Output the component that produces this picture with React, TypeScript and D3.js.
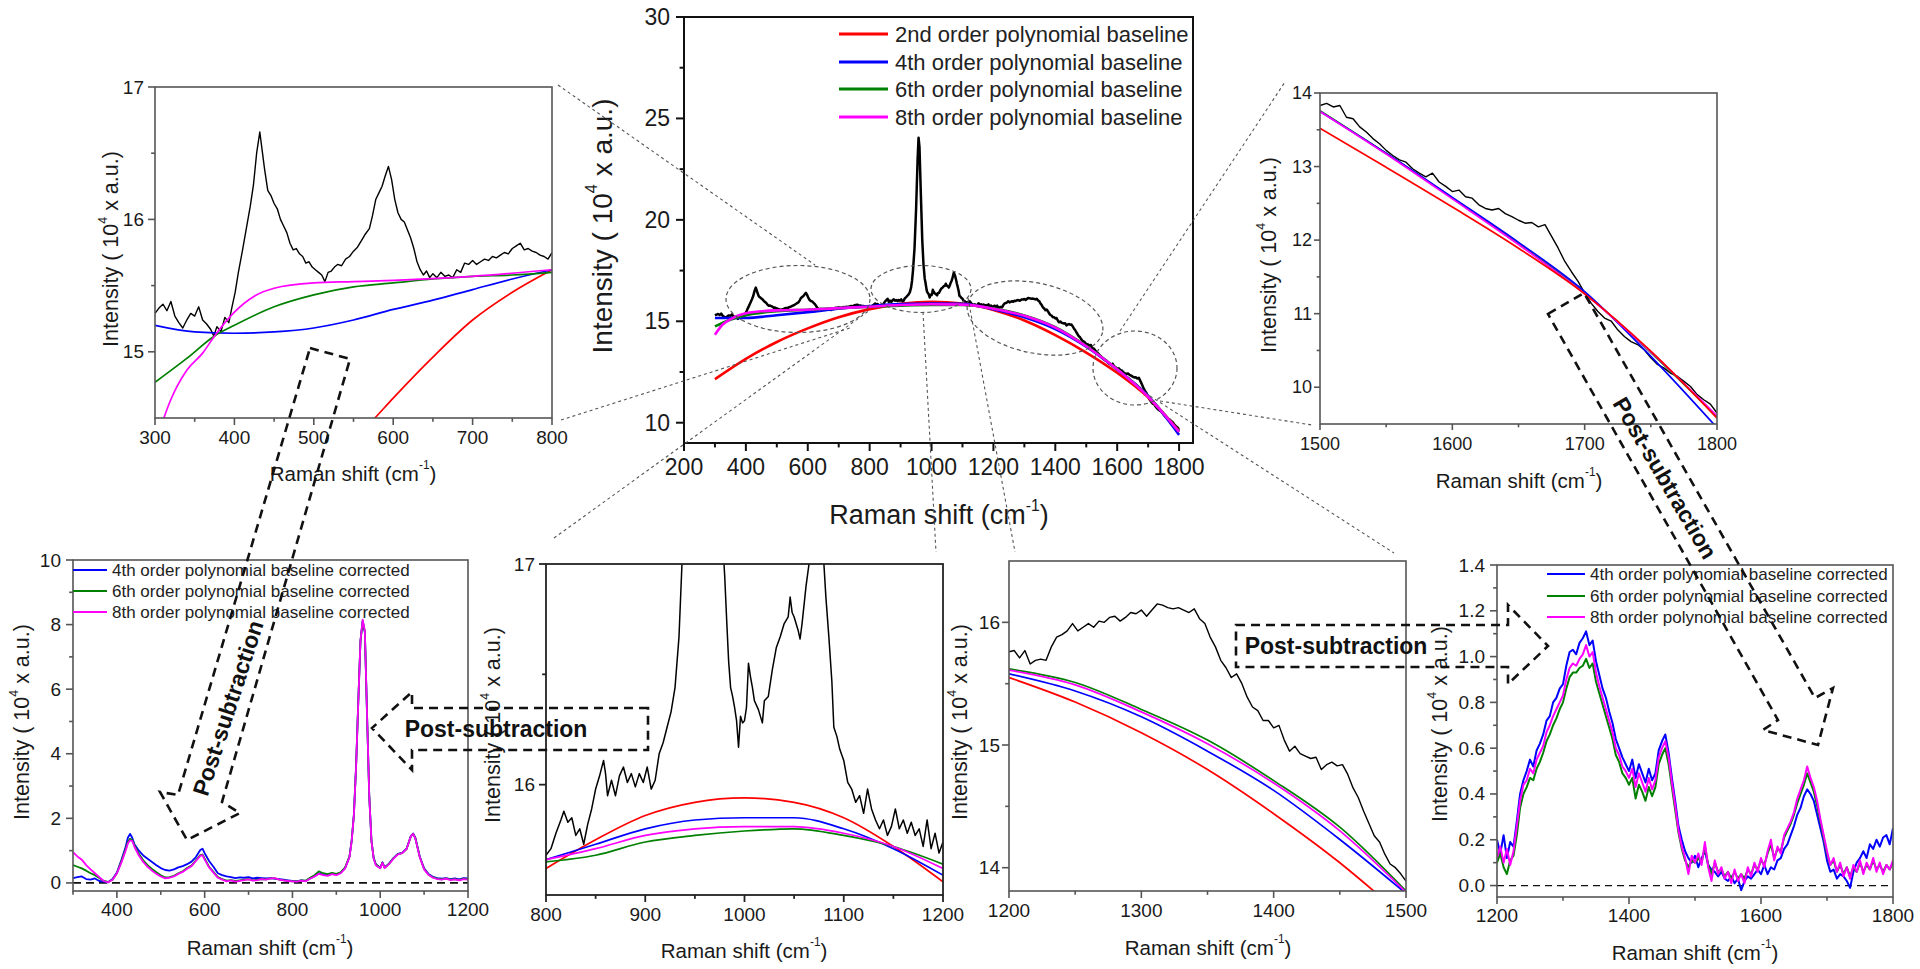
import React from 'react';
import * as d3 from 'd3';

type P = [number, number];

const FONT = '"Liberation Sans", Arial, Helvetica, sans-serif';
const RED = '#ff0000';
const BLUE = '#0000ff';
const GREEN = '#008000';
const MAGENTA = '#ff00ff';

// ---------- raw spectrum ----------
const raw300: P[] = [
  [300, 15.29], [305, 15.33], [310, 15.36], [315, 15.31], [320, 15.38], [325, 15.27], [330, 15.22], [335, 15.18],
  [340, 15.24], [345, 15.29], [350, 15.27], [355, 15.34], [360, 15.24], [365, 15.21], [370, 15.17], [374, 15.12],
  [378, 15.19], [383, 15.15], [388, 15.26], [393, 15.22], [397, 15.34], [401, 15.45], [405, 15.6], [410, 15.76],
  [415, 15.93], [420, 16.1], [424, 16.26], [428, 16.5], [432, 16.66], [435, 16.52], [438, 16.38], [442, 16.22],
  [446, 16.18], [450, 16.12], [454, 16.08], [458, 16.0], [462, 15.95], [466, 15.9], [470, 15.82], [474, 15.77],
  [478, 15.78], [482, 15.74], [486, 15.72], [490, 15.67], [494, 15.68], [498, 15.64], [502, 15.62], [506, 15.6],
  [510, 15.58], [514, 15.53], [518, 15.6], [522, 15.61], [526, 15.64], [530, 15.66], [535, 15.65], [540, 15.7],
  [545, 15.72], [550, 15.76], [555, 15.79], [560, 15.84], [565, 15.89], [570, 15.93], [574, 16.03], [578, 16.15],
  [582, 16.2], [586, 16.25], [590, 16.33], [594, 16.4], [598, 16.3], [602, 16.15], [606, 16.05], [610, 16.0],
  [614, 15.98], [618, 15.92], [622, 15.86], [626, 15.78], [630, 15.68], [634, 15.62], [638, 15.58], [642, 15.61],
  [646, 15.56], [650, 15.59], [655, 15.56], [660, 15.6], [665, 15.57], [670, 15.58], [675, 15.56], [680, 15.62],
  [685, 15.6], [690, 15.67], [695, 15.66], [700, 15.69], [705, 15.66], [710, 15.68], [715, 15.7], [720, 15.69],
  [725, 15.72], [730, 15.71], [735, 15.73], [740, 15.75], [745, 15.74], [750, 15.78], [755, 15.8], [760, 15.82],
  [765, 15.77], [770, 15.78], [775, 15.76], [780, 15.75], [785, 15.73], [790, 15.72], [795, 15.7], [800, 15.75],
];

const raw800: P[] = [
  [800, 15.68], [805, 15.71], [810, 15.78], [815, 15.84], [818, 15.88], [822, 15.83], [826, 15.85], [830, 15.77],
  [834, 15.8], [838, 15.73], [842, 15.82], [846, 15.89], [850, 15.98], [854, 16.04], [858, 16.11], [860, 16.05],
  [862, 15.95], [866, 16.02], [870, 15.95], [874, 16.04], [878, 16.08], [882, 16.01], [886, 16.05], [890, 15.99],
  [894, 16.05], [898, 16.01], [902, 16.08], [906, 15.98], [910, 16.02], [914, 16.14], [918, 16.19], [922, 16.26],
  [926, 16.33], [930, 16.44], [934, 16.67], [937, 17.0], [940, 17.5], [945, 18.6], [950, 20.5], [955, 23.0],
  [958, 24.05], [961, 23.6], [965, 21.5], [970, 19.0], [974, 17.8], [978, 17.1], [980, 16.95], [982, 16.75],
  [984, 16.56], [986, 16.44], [988, 16.4], [990, 16.35], [992, 16.29], [994, 16.17], [996, 16.31], [998, 16.28],
  [1000, 16.29], [1002, 16.35], [1004, 16.55], [1006, 16.49], [1008, 16.44], [1010, 16.38], [1014, 16.34], [1018, 16.28],
  [1020, 16.38], [1024, 16.4], [1028, 16.52], [1032, 16.62], [1036, 16.67], [1040, 16.73], [1044, 16.76], [1046, 16.85],
  [1048, 16.78], [1050, 16.76], [1054, 16.7], [1056, 16.66], [1058, 16.73], [1062, 16.9], [1065, 17.0], [1068, 17.15],
  [1072, 17.4], [1076, 17.25], [1080, 17.0], [1082, 16.85], [1085, 16.67], [1088, 16.47], [1090, 16.26], [1093, 16.22],
  [1096, 16.16], [1100, 16.11], [1104, 16.01], [1108, 15.98], [1112, 15.92], [1116, 15.95], [1120, 15.87], [1124, 15.98],
  [1128, 15.89], [1132, 15.84], [1136, 15.8], [1140, 15.84], [1144, 15.77], [1148, 15.81], [1152, 15.89], [1156, 15.8],
  [1160, 15.84], [1164, 15.78], [1168, 15.83], [1172, 15.77], [1176, 15.8], [1180, 15.72], [1184, 15.84], [1188, 15.71],
  [1192, 15.78], [1196, 15.69], [1200, 15.74],
];

const raw1200: P[] = [
  [1200, 15.76], [1204, 15.77], [1208, 15.71], [1212, 15.77], [1216, 15.66], [1220, 15.69], [1224, 15.7], [1228, 15.69],
  [1232, 15.8], [1236, 15.88], [1240, 15.9], [1244, 15.93], [1248, 15.99], [1252, 15.93], [1256, 15.96], [1260, 15.99],
  [1264, 15.96], [1268, 16.01], [1272, 16.0], [1276, 16.04], [1280, 16.05], [1284, 16.01], [1288, 16.04], [1292, 16.08],
  [1296, 16.07], [1300, 16.1], [1304, 16.05], [1308, 16.1], [1312, 16.15], [1316, 16.14], [1320, 16.12], [1324, 16.11],
  [1328, 16.12], [1332, 16.1], [1336, 16.08], [1340, 16.11], [1344, 16.03], [1348, 15.99], [1352, 15.88], [1356, 15.8],
  [1360, 15.69], [1364, 15.63], [1368, 15.55], [1372, 15.58], [1376, 15.5], [1380, 15.39], [1384, 15.31], [1388, 15.28],
  [1392, 15.2], [1396, 15.2], [1400, 15.14], [1404, 15.16], [1408, 15.04], [1412, 14.95], [1416, 14.99], [1420, 14.93],
  [1424, 14.91], [1428, 14.89], [1432, 14.9], [1436, 14.8], [1440, 14.84], [1444, 14.86], [1448, 14.83], [1452, 14.84],
  [1456, 14.76], [1460, 14.65], [1464, 14.57], [1468, 14.46], [1472, 14.36], [1476, 14.26], [1480, 14.21], [1484, 14.11],
  [1488, 14.03], [1492, 14.0], [1496, 13.95], [1500, 13.89],
];

const raw1500: P[] = [
  [1500, 13.83], [1505, 13.86], [1510, 13.81], [1515, 13.83], [1520, 13.67], [1525, 13.65], [1530, 13.54], [1535, 13.47],
  [1540, 13.38], [1545, 13.31], [1550, 13.22], [1555, 13.15], [1560, 13.09], [1565, 13.06], [1570, 12.97], [1575, 12.91],
  [1580, 12.86], [1585, 12.91], [1590, 12.79], [1595, 12.73], [1600, 12.66], [1605, 12.68], [1610, 12.59], [1615, 12.57],
  [1620, 12.48], [1625, 12.43], [1630, 12.41], [1635, 12.43], [1640, 12.36], [1645, 12.32], [1650, 12.27], [1655, 12.23],
  [1660, 12.24], [1665, 12.18], [1670, 12.21], [1675, 12.05], [1680, 11.89], [1685, 11.71], [1690, 11.57], [1695, 11.44],
  [1700, 11.28], [1705, 11.14], [1710, 11.03], [1715, 10.94], [1720, 10.9], [1725, 10.78], [1730, 10.69], [1735, 10.62],
  [1740, 10.58], [1745, 10.51], [1750, 10.4], [1755, 10.31], [1760, 10.26], [1765, 10.19], [1770, 10.15], [1775, 10.08],
  [1780, 10.01], [1785, 9.9], [1790, 9.83], [1795, 9.77], [1800, 9.65],
];

const rawFull: P[] = [...raw300, ...raw800.slice(1), ...raw1200.slice(1), ...raw1500.slice(1)];

// ---------- polynomial baselines (main view) ----------
const mainRed: P[] = [[300, 12.15], [400, 13.15], [500, 13.98], [600, 14.65], [700, 15.2], [800, 15.6], [900, 15.86], [1000, 15.96], [1100, 15.88], [1200, 15.56], [1300, 15.04], [1400, 14.32], [1500, 13.46], [1600, 12.46], [1700, 11.25], [1800, 9.59]];
const mainBlue: P[] = [[300, 15.16], [400, 15.16], [500, 15.3], [600, 15.45], [700, 15.62], [800, 15.75], [900, 15.85], [1000, 15.88], [1100, 15.86], [1200, 15.6], [1300, 15.2], [1400, 14.62], [1500, 13.75], [1600, 12.62], [1700, 11.32], [1800, 9.4]];
const mainGreen: P[] = [[300, 14.75], [350, 15.08], [400, 15.3], [500, 15.5], [600, 15.57], [700, 15.65], [800, 15.72], [900, 15.77], [1000, 15.8], [1100, 15.8], [1200, 15.63], [1300, 15.29], [1400, 14.71], [1500, 13.78], [1600, 12.64], [1700, 11.3], [1800, 9.55]];
const mainMagenta: P[] = [[300, 14.34], [325, 14.84], [350, 15.1], [400, 15.4], [500, 15.54], [600, 15.57], [700, 15.65], [800, 15.72], [900, 15.8], [1000, 15.84], [1100, 15.82], [1200, 15.62], [1300, 15.27], [1400, 14.69], [1500, 13.77], [1600, 12.63], [1700, 11.28], [1800, 9.55]];

// 300-800 inset
const p1Red: P[] = [[550, 14.33], [577, 14.5], [600, 14.65], [650, 14.96], [700, 15.24], [750, 15.45], [800, 15.62]];
const p1Blue: P[] = [[300, 15.2], [350, 15.15], [400, 15.14], [450, 15.15], [500, 15.18], [550, 15.24], [600, 15.32], [650, 15.39], [700, 15.47], [750, 15.55], [800, 15.62]];
const p1Green: P[] = [[300, 14.77], [340, 14.95], [375, 15.12], [400, 15.2], [450, 15.34], [500, 15.43], [550, 15.49], [600, 15.52], [650, 15.55], [700, 15.57], [750, 15.58], [800, 15.6]];
const p1Magenta: P[] = [[300, 14.3], [320, 14.64], [340, 14.86], [360, 14.99], [375, 15.12], [400, 15.3], [425, 15.42], [450, 15.48], [500, 15.52], [550, 15.53], [600, 15.54], [700, 15.57], [800, 15.62]];

// 800-1200 inset
const p5Red: P[] = [[800, 15.62], [850, 15.75], [900, 15.86], [950, 15.92], [1000, 15.94], [1050, 15.92], [1100, 15.85], [1150, 15.72], [1200, 15.56]];
const p5Blue: P[] = [[800, 15.66], [850, 15.73], [900, 15.8], [950, 15.84], [1000, 15.85], [1050, 15.85], [1100, 15.8], [1150, 15.71], [1200, 15.59]];
const p5Green: P[] = [[800, 15.65], [850, 15.68], [900, 15.74], [950, 15.77], [1000, 15.79], [1050, 15.8], [1100, 15.77], [1150, 15.72], [1200, 15.64]];
const p5Magenta: P[] = [[800, 15.66], [850, 15.71], [900, 15.77], [950, 15.8], [1000, 15.81], [1050, 15.81], [1100, 15.78], [1150, 15.72], [1200, 15.62]];

// 1200-1500 inset
const p6Red: P[] = [[1200, 15.55], [1250, 15.35], [1300, 15.1], [1350, 14.8], [1400, 14.44], [1450, 14.04], [1480, 13.77]];
const p6Blue: P[] = [[1200, 15.58], [1250, 15.44], [1300, 15.23], [1350, 14.95], [1400, 14.63], [1450, 14.23], [1500, 13.79]];
const p6Green: P[] = [[1200, 15.62], [1250, 15.51], [1300, 15.29], [1350, 15.04], [1400, 14.71], [1450, 14.33], [1500, 13.81]];
const p6Magenta: P[] = [[1200, 15.61], [1250, 15.49], [1300, 15.27], [1350, 15.01], [1400, 14.69], [1450, 14.3], [1500, 13.8]];

// 1500-1800 inset
const p3Red: P[] = [[1500, 13.52], [1550, 12.99], [1600, 12.45], [1650, 11.89], [1700, 11.27], [1750, 10.49], [1800, 9.58]];
const p3Blue: P[] = [[1500, 13.75], [1550, 13.18], [1600, 12.58], [1650, 11.97], [1700, 11.3], [1750, 10.42], [1800, 9.45]];
const p3Green: P[] = [[1500, 13.76], [1550, 13.18], [1600, 12.57], [1650, 11.95], [1700, 11.28], [1750, 10.47], [1800, 9.6]];
const p3Magenta: P[] = [[1500, 13.75], [1550, 13.17], [1600, 12.56], [1650, 11.94], [1700, 11.27], [1750, 10.48], [1800, 9.61]];

// ---------- baseline-corrected spectra, 300-1200 ----------
const p4Shift = [
  300, 310, 320, 330, 340, 350, 360, 370, 380, 390, 400, 410, 420, 425, 430, 435, 440, 450, 460, 470,
  480, 490, 500, 510, 520, 530, 540, 550, 560, 570, 580, 590, 595, 600, 610, 620, 630, 640, 650, 660,
  670, 680, 690, 700, 710, 720, 730, 740, 750, 760, 770, 780, 790, 800, 810, 820, 830, 840, 850, 860,
  870, 880, 890, 900, 910, 920, 930, 935, 940, 945, 950, 955, 960, 965, 970, 975, 980, 985, 990, 1000,
  1005, 1010, 1020, 1030, 1040, 1050, 1060, 1070, 1075, 1080, 1090, 1100, 1110, 1120, 1130, 1140, 1150, 1160,
  1170, 1180, 1190, 1200,
];
const p4Blue = [
  0.15, 0.18, 0.2, 0.12, 0.1, 0.14, 0.06, 0.04, 0.02, 0.12, 0.32, 0.7, 1.12, 1.4, 1.52, 1.4, 1.2, 1.0, 0.85, 0.75,
  0.65, 0.55, 0.46, 0.4, 0.38, 0.42, 0.48, 0.52, 0.58, 0.66, 0.8, 1.02, 1.06, 0.92, 0.68, 0.5, 0.3, 0.24, 0.2, 0.18,
  0.15, 0.17, 0.16, 0.18, 0.14, 0.16, 0.15, 0.14, 0.15, 0.13, 0.12, 0.1, 0.08, 0.06, 0.05, 0.08, 0.06, 0.14, 0.2, 0.3,
  0.26, 0.24, 0.28, 0.26, 0.32, 0.46, 0.82, 1.32, 2.12, 3.62, 5.62, 7.5, 8.1, 7.75, 5.2, 2.7, 1.32, 0.78, 0.58, 0.47,
  0.64, 0.48, 0.6, 0.77, 0.9, 0.93, 1.06, 1.46, 1.53, 1.4, 0.82, 0.45, 0.28, 0.19, 0.15, 0.13, 0.15, 0.12,
  0.14, 0.11, 0.15, 0.14,
];
const p4Green = [
  0.55, 0.5, 0.45, 0.38, 0.3, 0.24, 0.15, 0.06, 0.03, 0.1, 0.3, 0.66, 1.05, 1.27, 1.37, 1.33, 1.16, 0.9, 0.7, 0.55,
  0.43, 0.33, 0.24, 0.17, 0.18, 0.22, 0.3, 0.36, 0.46, 0.54, 0.7, 0.86, 0.88, 0.75, 0.5, 0.34, 0.18, 0.12, 0.07, 0.09,
  0.06, 0.08, 0.1, 0.12, 0.08, 0.1, 0.12, 0.11, 0.14, 0.14, 0.1, 0.08, 0.06, 0.05, 0.05, 0.08, 0.07, 0.16, 0.24, 0.36,
  0.3, 0.27, 0.31, 0.28, 0.33, 0.48, 0.82, 1.31, 2.11, 3.61, 5.6, 7.48, 8.12, 7.78, 5.2, 2.7, 1.31, 0.77, 0.57, 0.46,
  0.63, 0.47, 0.59, 0.76, 0.89, 0.92, 1.05, 1.45, 1.52, 1.39, 0.81, 0.43, 0.26, 0.17, 0.13, 0.11, 0.14, 0.1,
  0.12, 0.09, 0.13, 0.11,
];
const p4Magenta = [
  0.95, 0.82, 0.72, 0.55, 0.42, 0.3, 0.18, 0.06, 0.02, 0.1, 0.3, 0.62, 1.0, 1.22, 1.32, 1.3, 1.12, 0.85, 0.65, 0.5,
  0.38, 0.28, 0.2, 0.14, 0.16, 0.2, 0.28, 0.34, 0.44, 0.52, 0.68, 0.84, 0.86, 0.72, 0.48, 0.32, 0.16, 0.1, 0.05, 0.08,
  0.04, 0.06, 0.09, 0.11, 0.07, 0.09, 0.12, 0.1, 0.14, 0.15, 0.1, 0.08, 0.06, 0.05, 0.04, 0.07, 0.05, 0.13, 0.2, 0.28,
  0.24, 0.22, 0.27, 0.24, 0.3, 0.45, 0.8, 1.3, 2.1, 3.6, 5.6, 7.5, 8.15, 7.8, 5.2, 2.7, 1.3, 0.75, 0.55, 0.45,
  0.62, 0.46, 0.58, 0.75, 0.88, 0.92, 1.05, 1.45, 1.52, 1.38, 0.8, 0.42, 0.25, 0.16, 0.12, 0.1, 0.13, 0.09,
  0.11, 0.08, 0.12, 0.1,
];

// ---------- baseline-corrected spectra, 1200-1800 ----------
const p7Shift = [
  1200, 1205, 1210, 1215, 1220, 1225, 1230, 1235, 1240, 1245, 1250, 1255, 1260, 1265, 1270, 1275, 1280, 1285, 1290, 1295,
  1300, 1305, 1310, 1315, 1320, 1325, 1330, 1335, 1340, 1345, 1350, 1355, 1360, 1365, 1370, 1375, 1380, 1385, 1390, 1395,
  1400, 1405, 1410, 1415, 1420, 1425, 1430, 1435, 1440, 1445, 1450, 1455, 1460, 1465, 1470, 1475, 1480, 1485, 1490, 1495,
  1500, 1505, 1510, 1515, 1520, 1525, 1530, 1535, 1540, 1545, 1550, 1555, 1560, 1565, 1570, 1575, 1580, 1585, 1590, 1595,
  1600, 1605, 1610, 1615, 1620, 1625, 1630, 1635, 1640, 1645, 1650, 1655, 1660, 1665, 1670, 1675, 1680, 1685, 1690, 1695,
  1700, 1705, 1710, 1715, 1720, 1725, 1730, 1735, 1740, 1745, 1750, 1755, 1760, 1765, 1770, 1775, 1780, 1785, 1790, 1795,
  1800,
];
const p7Blue = [
  0.2, 0.14, 0.22, 0.12, 0.19, 0.17, 0.28, 0.4, 0.46, 0.5, 0.55, 0.52, 0.59, 0.62, 0.66, 0.72, 0.74, 0.8, 0.82, 0.86,
  0.88, 0.96, 1.02, 1.03, 1.01, 1.06, 1.08, 1.11, 1.05, 1.07, 0.98, 0.92, 0.86, 0.82, 0.76, 0.71, 0.64, 0.6, 0.56, 0.53,
  0.5, 0.55, 0.47, 0.53, 0.49, 0.45, 0.51, 0.46, 0.49, 0.59, 0.63, 0.66, 0.58, 0.47, 0.37, 0.26, 0.2, 0.15, 0.12, 0.1,
  0.13, 0.08, 0.12, 0.15, 0.09, 0.07, 0.06, 0.04, 0.06, 0.03, 0.02, 0.04, 0.01, 0.03, -0.02, 0.02, 0.04, 0.03, 0.05, 0.07,
  0.05, 0.09, 0.05, 0.08, 0.07, 0.11, 0.12, 0.16, 0.18, 0.22, 0.26, 0.31, 0.34, 0.39, 0.42, 0.4, 0.37, 0.31, 0.25, 0.19,
  0.11, 0.06, 0.07, 0.03, 0.05, 0.04, 0.02, -0.01, 0.06, 0.1, 0.12, 0.15, 0.12, 0.18, 0.16, 0.2, 0.17, 0.21, 0.22, 0.18,
  0.25,
];
const p7Green = [
  0.1, 0.14, 0.08, 0.05, 0.11, 0.13, 0.22, 0.34, 0.4, 0.43, 0.47, 0.46, 0.51, 0.54, 0.58, 0.63, 0.66, 0.7, 0.73, 0.77,
  0.8, 0.86, 0.91, 0.93, 0.93, 0.95, 0.96, 0.99, 0.95, 0.97, 0.89, 0.84, 0.79, 0.74, 0.69, 0.64, 0.57, 0.54, 0.49, 0.47,
  0.44, 0.47, 0.38, 0.44, 0.41, 0.37, 0.43, 0.39, 0.43, 0.53, 0.57, 0.6, 0.53, 0.43, 0.33, 0.23, 0.16, 0.11, 0.08, 0.11,
  0.1, 0.12, 0.1, 0.17, 0.09, 0.05, 0.1, 0.06, 0.07, 0.04, 0.06, 0.03, 0.06, 0.03, 0.05, 0.03, 0.07, 0.05, 0.09, 0.07,
  0.11, 0.09, 0.14, 0.18, 0.12, 0.16, 0.15, 0.21, 0.24, 0.27, 0.31, 0.36, 0.4, 0.44, 0.49, 0.45, 0.41, 0.35, 0.28, 0.21,
  0.14, 0.09, 0.11, 0.06, 0.09, 0.05, 0.08, 0.04, 0.08, 0.06, 0.1, 0.06, 0.09, 0.07, 0.11, 0.07, 0.09, 0.06, 0.09, 0.07,
  0.1,
];
const p7Magenta = [
  0.12, 0.17, 0.1, 0.16, 0.09, 0.15, 0.26, 0.37, 0.44, 0.46, 0.51, 0.49, 0.55, 0.58, 0.61, 0.67, 0.7, 0.74, 0.77, 0.8,
  0.83, 0.9, 0.95, 0.97, 0.96, 0.99, 1.01, 1.05, 1.0, 1.02, 0.93, 0.87, 0.82, 0.77, 0.72, 0.67, 0.6, 0.57, 0.52, 0.5,
  0.47, 0.51, 0.43, 0.49, 0.45, 0.41, 0.47, 0.42, 0.46, 0.56, 0.6, 0.63, 0.56, 0.45, 0.35, 0.24, 0.17, 0.12, 0.05, 0.13,
  0.1, 0.14, 0.09, 0.19, 0.08, 0.02, 0.11, 0.05, 0.08, 0.03, 0.06, 0.01, 0.07, 0.02, 0.05, 0.01, 0.08, 0.04, 0.1, 0.06,
  0.12, 0.08, 0.15, 0.2, 0.11, 0.17, 0.14, 0.22, 0.25, 0.28, 0.32, 0.38, 0.42, 0.46, 0.52, 0.47, 0.43, 0.37, 0.29, 0.22,
  0.15, 0.09, 0.12, 0.06, 0.1, 0.04, 0.08, 0.03, 0.09, 0.06, 0.11, 0.05, 0.1, 0.07, 0.12, 0.06, 0.1, 0.05, 0.09, 0.07,
  0.11,
];

const baselineLegend = ['2nd order polynomial baseline', '4th order polynomial baseline', '6th order polynomial baseline', '8th order polynomial baseline'];
const correctedLegend = ['4th order polynomial baseline corrected', '6th order polynomial baseline corrected', '8th order polynomial baseline corrected'];

const zip = (xs: number[], ys: number[]): P[] => xs.map((x, i) => [x, ys[i]] as P);

// ---------- generic panel ----------
interface Series { pts: P[]; color: string; width: number; smooth?: boolean }
interface Box { l: number; r: number; t: number; b: number }
interface Legend { rows: { label: string; color: string }[]; x1: number; x2: number; tx: number; ys: number[]; size: number; lw: number }
interface PanelProps {
  id: string;
  box: Box;
  xDom: [number, number];
  yDom: [number, number];
  xMajor: number[];
  xMinor: number[];
  yMajor: number[];
  yMinor: number[];
  yFmt?: (v: number) => string;
  series: Series[];
  tick: number;
  font: number;
  xLabOff: number;
  yLabGap: number;
  axisColor: string;
  axisWidth: number;
  yTitle: { x: number; y: number; size: number };
  xTitle: { x: number; y: number; size: number };
  zero?: { dash: string; width: number };
  legend?: Legend;
}

const YTitle: React.FC<{ x: number; y: number; size: number }> = ({ x, y, size }) => (
  <text transform={`translate(${x},${y}) rotate(-90)`} textAnchor="middle" dominantBaseline="central" fontSize={size} fill="#1a1a1a">
    Intensity ( 10<tspan fontSize={size * 0.58} dy={-size * 0.38}>4</tspan><tspan dy={size * 0.38}>{' x a.u.)'}</tspan>
  </text>
);

const XTitle: React.FC<{ x: number; y: number; size: number }> = ({ x, y, size }) => (
  <text x={x} y={y} textAnchor="middle" dominantBaseline="central" fontSize={size} fill="#1a1a1a">
    Raman shift (cm<tspan fontSize={size * 0.58} dy={-size * 0.38}>-1</tspan><tspan dy={size * 0.38}>)</tspan>
  </text>
);

const Panel: React.FC<PanelProps> = (p) => {
  const { l, r, t, b } = p.box;
  const x = d3.scaleLinear().domain(p.xDom).range([l, r]);
  const y = d3.scaleLinear().domain(p.yDom).range([b, t]);
  const clipId = `clip-${p.id}`;
  const fmt = p.yFmt ?? ((v: number) => `${v}`);
  return (
    <g>
      <defs>
        <clipPath id={clipId}>
          <rect x={l} y={t} width={r - l} height={b - t} />
        </clipPath>
      </defs>
      <g clipPath={`url(#${clipId})`}>
        {p.zero && (
          <line x1={l} x2={r} y1={y(0)} y2={y(0)} stroke="#111" strokeWidth={p.zero.width} strokeDasharray={p.zero.dash} />
        )}
        {p.series.map((s, i) => {
          const gen = d3.line<P>().x((d) => x(d[0])).y((d) => y(d[1])).curve(s.smooth ? d3.curveMonotoneX : d3.curveLinear);
          return <path key={i} d={gen(s.pts) ?? ''} fill="none" stroke={s.color} strokeWidth={s.width} strokeLinejoin="round" />;
        })}
      </g>
      <rect x={l} y={t} width={r - l} height={b - t} fill="none" stroke={p.axisColor} strokeWidth={p.axisWidth} />
      {p.xMajor.map((v) => (
        <g key={`xM${v}`}>
          <line x1={x(v)} x2={x(v)} y1={b} y2={b + p.tick} stroke={p.axisColor} strokeWidth={p.axisWidth} />
          <text x={x(v)} y={b + p.xLabOff} textAnchor="middle" dominantBaseline="central" fontSize={p.font} fill="#1a1a1a">{v}</text>
        </g>
      ))}
      {p.xMinor.map((v) => (
        <line key={`xm${v}`} x1={x(v)} x2={x(v)} y1={b} y2={b + p.tick * 0.55} stroke={p.axisColor} strokeWidth={p.axisWidth} />
      ))}
      {p.yMajor.map((v) => (
        <g key={`yM${v}`}>
          <line x1={l - p.tick} x2={l} y1={y(v)} y2={y(v)} stroke={p.axisColor} strokeWidth={p.axisWidth} />
          <text x={l - p.yLabGap} y={y(v)} textAnchor="end" dominantBaseline="central" fontSize={p.font} fill="#1a1a1a">{fmt(v)}</text>
        </g>
      ))}
      {p.yMinor.map((v) => (
        <line key={`ym${v}`} x1={l - p.tick * 0.55} x2={l} y1={y(v)} y2={y(v)} stroke={p.axisColor} strokeWidth={p.axisWidth} />
      ))}
      <YTitle {...p.yTitle} />
      <XTitle {...p.xTitle} />
      {p.legend &&
        p.legend.rows.map((row, i) => (
          <g key={row.label}>
            <line x1={p.legend!.x1} x2={p.legend!.x2} y1={p.legend!.ys[i]} y2={p.legend!.ys[i]} stroke={row.color} strokeWidth={p.legend!.lw} />
            <text x={p.legend!.tx} y={p.legend!.ys[i]} dominantBaseline="central" fontSize={p.legend!.size} fill="#222">{row.label}</text>
          </g>
        ))}
    </g>
  );
};

// ---------- annotation layout (pixel positions of the callouts) ----------
const ellipses = [
  { cx: 798, cy: 299, rx: 72, ry: 33.5, rot: 0 },
  { cx: 921, cy: 289, rx: 50, ry: 23.5, rot: 0 },
  { cx: 1035, cy: 318, rx: 69, ry: 35, rot: 12 },
  { cx: 1135, cy: 368, rx: 42, ry: 37, rot: 0 },
];
const connectors: [number, number, number, number][] = [
  [558, 85, 815, 265],
  [561, 420, 850, 328],
  [554, 538, 870, 310],
  [923, 312, 936, 552],
  [968, 298, 1015, 552],
  [1120, 331, 1285, 82],
  [1160, 401, 1312, 425],
  [1150, 396, 1394, 553],
];
const arrows: { pts: [number, number][]; text: { x: number; y: number; rot: number } }[] = [
  { pts: [[310, 348], [350, 359], [222, 802], [240, 813], [187, 840], [160, 792], [178, 795]], text: { x: 228, y: 708, rot: -72 } },
  { pts: [[648, 708], [412, 708], [412, 692], [372, 728], [412, 770], [412, 750], [648, 750]], text: { x: 496, y: 729, rot: 0 } },
  { pts: [[1236, 625], [1508, 625], [1508, 605], [1548, 646], [1508, 684], [1508, 667], [1236, 667]], text: { x: 1336, y: 646, rot: 0 } },
  { pts: [[1548, 314], [1584, 293], [1815, 698], [1833, 688], [1818, 745], [1763, 730], [1778, 720]], text: { x: 1665, y: 478, rot: 59.7 } },
];

const Annotations: React.FC = () => (
  <g>
    {ellipses.map((e, i) => (
      <ellipse key={i} cx={e.cx} cy={e.cy} rx={e.rx} ry={e.ry} transform={`rotate(${e.rot},${e.cx},${e.cy})`} fill="none" stroke="#555" strokeWidth={1.2} strokeDasharray="4,3" />
    ))}
    {connectors.map((c, i) => (
      <line key={i} x1={c[0]} y1={c[1]} x2={c[2]} y2={c[3]} stroke="#555" strokeWidth={1.1} strokeDasharray="3,3" />
    ))}
    {arrows.map((a, i) => (
      <g key={i}>
        <path d={`M${a.pts.map((q) => q.join(',')).join('L')}Z`} fill="none" stroke="#111" strokeWidth={2.6} strokeDasharray="9,6" />
        <text transform={`translate(${a.text.x},${a.text.y}) rotate(${a.text.rot})`} textAnchor="middle" dominantBaseline="central" fontSize={23} fontWeight="bold" fill="#111">
          Post-subtraction
        </text>
      </g>
    ))}
  </g>
);

export default function App() {
  const insetAxis = '#555';
  return (
    <div style={{ position: 'absolute', left: 0, top: 0, width: 1920, height: 969, background: '#fff' }}>
      <svg width={1920} height={969} style={{ display: 'block' }} fontFamily={FONT}>
        <rect width={1920} height={969} fill="#fff" />

        {/* main overview */}
        <Panel
          id="main"
          box={{ l: 684, r: 1193, t: 17, b: 443 }}
          xDom={[200, 1845]}
          yDom={[9, 30]}
          xMajor={[200, 400, 600, 800, 1000, 1200, 1400, 1600, 1800]}
          xMinor={[300, 500, 700, 900, 1100, 1300, 1500, 1700]}
          yMajor={[10, 15, 20, 25, 30]}
          yMinor={[12.5, 17.5, 22.5, 27.5]}
          series={[
            { pts: rawFull, color: '#000', width: 2.5 },
            { pts: mainRed, color: RED, width: 2.6, smooth: true },
            { pts: mainBlue, color: BLUE, width: 2.6, smooth: true },
            { pts: mainGreen, color: GREEN, width: 2.6, smooth: true },
            { pts: mainMagenta, color: MAGENTA, width: 2.6, smooth: true },
          ]}
          tick={8}
          font={23}
          xLabOff={24}
          yLabGap={14}
          axisColor="#111"
          axisWidth={2}
          yTitle={{ x: 602, y: 226, size: 28 }}
          xTitle={{ x: 939, y: 515, size: 27 }}
          legend={{
            rows: baselineLegend.map((label, i) => ({ label, color: [RED, BLUE, GREEN, MAGENTA][i] })),
            x1: 839, x2: 888, tx: 895, ys: [34, 62, 89, 117], size: 22, lw: 3,
          }}
        />

        {/* 300-800 inset */}
        <Panel
          id="p1"
          box={{ l: 155, r: 552, t: 87, b: 418 }}
          xDom={[300, 800]}
          yDom={[14.5, 17]}
          xMajor={[300, 400, 500, 600, 700, 800]}
          xMinor={[350, 450, 550, 650, 750]}
          yMajor={[15, 16, 17]}
          yMinor={[15.5, 16.5]}
          series={[
            { pts: raw300, color: '#000', width: 1.4 },
            { pts: p1Red, color: RED, width: 1.7, smooth: true },
            { pts: p1Blue, color: BLUE, width: 1.7, smooth: true },
            { pts: p1Green, color: GREEN, width: 1.7, smooth: true },
            { pts: p1Magenta, color: MAGENTA, width: 1.7, smooth: true },
          ]}
          tick={7}
          font={19}
          xLabOff={19}
          yLabGap={11}
          axisColor={insetAxis}
          axisWidth={1.6}
          yTitle={{ x: 111, y: 249, size: 21.5 }}
          xTitle={{ x: 353, y: 473, size: 20.5 }}
        />

        {/* 1500-1800 inset */}
        <Panel
          id="p3"
          box={{ l: 1320, r: 1717, t: 93, b: 424 }}
          xDom={[1500, 1800]}
          yDom={[9.5, 14]}
          xMajor={[1500, 1600, 1700, 1800]}
          xMinor={[1550, 1650, 1750]}
          yMajor={[10, 11, 12, 13, 14]}
          yMinor={[10.5, 11.5, 12.5, 13.5]}
          series={[
            { pts: raw1500, color: '#000', width: 1.4 },
            { pts: p3Green, color: GREEN, width: 1.7, smooth: true },
            { pts: p3Blue, color: BLUE, width: 1.7, smooth: true },
            { pts: p3Magenta, color: MAGENTA, width: 1.7, smooth: true },
            { pts: p3Red, color: RED, width: 1.7, smooth: true },
          ]}
          tick={6}
          font={18}
          xLabOff={20}
          yLabGap={8}
          axisColor={insetAxis}
          axisWidth={1.6}
          yTitle={{ x: 1269, y: 255, size: 21.5 }}
          xTitle={{ x: 1519, y: 480, size: 20.5 }}
        />

        {/* corrected 300-1200 */}
        <Panel
          id="p4"
          box={{ l: 73, r: 468, t: 560, b: 891 }}
          xDom={[300, 1200]}
          yDom={[-0.25, 10]}
          xMajor={[400, 600, 800, 1000, 1200]}
          xMinor={[300, 500, 700, 900, 1100]}
          yMajor={[0, 2, 4, 6, 8, 10]}
          yMinor={[1, 3, 5, 7, 9]}
          series={[
            { pts: zip(p4Shift, p4Blue), color: BLUE, width: 1.8 },
            { pts: zip(p4Shift, p4Green), color: GREEN, width: 1.8 },
            { pts: zip(p4Shift, p4Magenta), color: MAGENTA, width: 1.8 },
          ]}
          tick={7}
          font={19}
          xLabOff={18}
          yLabGap={12}
          axisColor={insetAxis}
          axisWidth={1.6}
          yTitle={{ x: 22, y: 722, size: 21.5 }}
          xTitle={{ x: 270, y: 947, size: 20.5 }}
          zero={{ dash: '8,5', width: 1.8 }}
          legend={{
            rows: correctedLegend.map((label, i) => ({ label, color: [BLUE, GREEN, MAGENTA][i] })),
            x1: 73, x2: 107, tx: 112, ys: [570, 591, 612], size: 17, lw: 2.2,
          }}
        />

        {/* 800-1200 inset */}
        <Panel
          id="p5"
          box={{ l: 546, r: 943, t: 564, b: 895 }}
          xDom={[800, 1200]}
          yDom={[15.5, 17]}
          xMajor={[800, 900, 1000, 1100, 1200]}
          xMinor={[850, 950, 1050, 1150]}
          yMajor={[16, 17]}
          yMinor={[16.5]}
          series={[
            { pts: raw800, color: '#000', width: 1.5 },
            { pts: p5Red, color: RED, width: 1.7, smooth: true },
            { pts: p5Blue, color: BLUE, width: 1.7, smooth: true },
            { pts: p5Green, color: GREEN, width: 1.7, smooth: true },
            { pts: p5Magenta, color: MAGENTA, width: 1.7, smooth: true },
          ]}
          tick={7}
          font={19}
          xLabOff={19}
          yLabGap={11}
          axisColor="#222"
          axisWidth={1.8}
          yTitle={{ x: 493, y: 725, size: 21.5 }}
          xTitle={{ x: 744, y: 950, size: 20.5 }}
        />

        {/* 1200-1500 inset */}
        <Panel
          id="p6"
          box={{ l: 1009, r: 1406, t: 561, b: 891 }}
          xDom={[1200, 1500]}
          yDom={[13.81, 16.5]}
          xMajor={[1200, 1300, 1400, 1500]}
          xMinor={[1250, 1350, 1450]}
          yMajor={[14, 15, 16]}
          yMinor={[14.5, 15.5]}
          series={[
            { pts: raw1200, color: '#000', width: 1.4 },
            { pts: p6Red, color: RED, width: 1.7, smooth: true },
            { pts: p6Blue, color: BLUE, width: 1.7, smooth: true },
            { pts: p6Green, color: GREEN, width: 1.7, smooth: true },
            { pts: p6Magenta, color: MAGENTA, width: 1.7, smooth: true },
          ]}
          tick={7}
          font={19}
          xLabOff={19}
          yLabGap={9}
          axisColor={insetAxis}
          axisWidth={1.6}
          yTitle={{ x: 960, y: 722, size: 21.5 }}
          xTitle={{ x: 1208, y: 947, size: 20.5 }}
        />

        {/* corrected 1200-1800 */}
        <Panel
          id="p7"
          box={{ l: 1497, r: 1893, t: 565, b: 897 }}
          xDom={[1200, 1800]}
          yDom={[-0.05, 1.4]}
          xMajor={[1200, 1400, 1600, 1800]}
          xMinor={[1300, 1500, 1700]}
          yMajor={[0, 0.2, 0.4, 0.6, 0.8, 1.0, 1.2, 1.4]}
          yMinor={[0.1, 0.3, 0.5, 0.7, 0.9, 1.1, 1.3]}
          yFmt={(v) => v.toFixed(1)}
          series={[
            { pts: zip(p7Shift, p7Blue), color: BLUE, width: 2 },
            { pts: zip(p7Shift, p7Green), color: GREEN, width: 2 },
            { pts: zip(p7Shift, p7Magenta), color: MAGENTA, width: 2 },
          ]}
          tick={7}
          font={19}
          xLabOff={18}
          yLabGap={12}
          axisColor={insetAxis}
          axisWidth={1.6}
          yTitle={{ x: 1440, y: 724, size: 21.5 }}
          xTitle={{ x: 1695, y: 952, size: 20.5 }}
          zero={{ dash: '7,5', width: 1.3 }}
          legend={{
            rows: correctedLegend.map((label, i) => ({ label, color: [BLUE, GREEN, MAGENTA][i] })),
            x1: 1547, x2: 1585, tx: 1590, ys: [574, 596, 617], size: 17, lw: 2.2,
          }}
        />

        <Annotations />
      </svg>
    </div>
  );
}
